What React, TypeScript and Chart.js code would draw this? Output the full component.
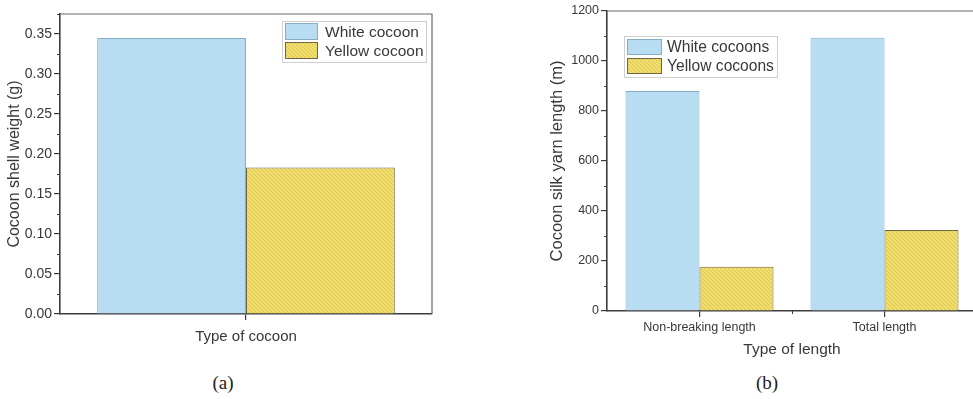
import React, { useEffect, useRef } from 'react';
import { Chart, registerables } from 'chart.js';

Chart.register(...registerables);

// ---------- data ----------
const aCategories = [''];
const aLegendLabels = ['White cocoon', 'Yellow cocoon'];
const aWhite = [0.345];
const aYellow = [0.183];
const aYMin = 0;
const aYMax = 0.375;
const aYStep = 0.05;

const bCategories = ['Non-breaking length', 'Total length'];
const bLegendLabels = ['White cocoons', 'Yellow cocoons'];
const bWhite = [880, 1093];
const bYellow = [177, 324];
const bYMin = 0;
const bYMax = 1200;
const bYStep = 200;

const AXIS = '#3c3c3c';
const TEXT = '#383838';
const FRAME = '#6a6a6a';
const BLUE = '#b8dcf1';
const BLUE_BORDER = '#86adc6';
const YELLOW_BORDER = '#6e6640';

function makeHatch(): CanvasPattern | string {
  const c = document.createElement('canvas');
  c.width = 4;
  c.height = 4;
  const g = c.getContext('2d');
  if (!g) return '#e8d55e';
  g.fillStyle = '#efdd6e';
  g.fillRect(0, 0, 4, 4);
  g.strokeStyle = '#dec64f';
  g.lineWidth = 1;
  for (const off of [-4, 0, 4]) {
    g.beginPath();
    g.moveTo(off, 0);
    g.lineTo(off + 4, 4);
    g.stroke();
  }
  const p = g.createPattern(c, 'repeat');
  return p || '#e8d55e';
}

const framePlugin = {
  id: 'frame',
  afterDraw(chart: any, _args: any, opts: any) {
    const { ctx } = chart;
    const { left, right, top, bottom } = chart.chartArea;
    ctx.save();
    ctx.strokeStyle = FRAME;
    ctx.lineWidth = 1.2;
    ctx.beginPath();
    ctx.moveTo(left, top);
    ctx.lineTo(right, top);
    ctx.lineTo(right, bottom);
    ctx.stroke();
    // minor y ticks
    const y = chart.scales.y;
    ctx.strokeStyle = AXIS;
    ctx.lineWidth = 1;
    const step = opts.yStep;
    for (let v = y.min + step / 2; v < y.max; v += step) {
      const py = Math.round(y.getPixelForValue(v)) + 0.5;
      ctx.beginPath();
      ctx.moveTo(left, py);
      ctx.lineTo(left - 3, py);
      ctx.stroke();
    }
    // minor x ticks between categories
    const x = chart.scales.x;
    const n = chart.data.labels.length;
    for (let i = 0; i < n - 1; i++) {
      const px = Math.round((x.getPixelForValue(i) + x.getPixelForValue(i + 1)) / 2) + 0.5;
      ctx.beginPath();
      ctx.moveTo(px, bottom);
      ctx.lineTo(px, bottom + 3);
      ctx.stroke();
    }
    // legend
    const L = opts.legend;
    const bx = L.anchor === 'right' ? right - L.dx - L.w : left + L.dx;
    const by = top + L.dy;
    ctx.fillStyle = '#ffffff';
    ctx.fillRect(bx, by, L.w, L.h);
    ctx.strokeStyle = '#cfcfcf';
    ctx.lineWidth = 1;
    ctx.strokeRect(bx + 0.5, by + 0.5, L.w, L.h);
    ctx.font = `${L.fontSize}px "Liberation Sans", Arial, sans-serif`;
    ctx.textBaseline = 'middle';
    ctx.textAlign = 'left';
    chart.data.datasets.forEach((ds: any, i: number) => {
      const sx = bx + L.pad;
      const sy = by + L.padTop + i * L.rowH;
      ctx.fillStyle = ds.backgroundColor;
      ctx.fillRect(sx, sy, L.swW, L.swH);
      ctx.strokeStyle = ds.borderColor;
      ctx.strokeRect(sx + 0.5, sy + 0.5, L.swW - 1, L.swH - 1);
      ctx.fillStyle = TEXT;
      ctx.fillText(ds.label, sx + L.swW + L.textGap, sy + L.swH / 2 + 1);
    });
    ctx.restore();
  },
};

type Cfg = {
  labels: string[];
  legend: string[];
  white: number[];
  yellow: number[];
  yMin: number;
  yMax: number;
  yStep: number;
  decimals: number;
  yTitle: string;
  xTitle: string;
  yWidth: number;
  xHeight: number;
  padding: any;
  yTickFont: number;
  xTickFont: number;
  yTitleFont: number;
  xTitleFont: number;
  yTitlePad: number;
  xTitlePad: number;
  xTickPad: number;
  legendOpts: any;
};

function BarPanel({ cfg, width, height }: { cfg: Cfg; width: number; height: number }) {
  const ref = useRef<HTMLCanvasElement | null>(null);
  useEffect(() => {
    if (!ref.current) return;
    const hatch = makeHatch();
    const fam = '"Liberation Sans", Arial, sans-serif';
    const chart = new Chart(ref.current, {
      type: 'bar',
      data: {
        labels: cfg.labels,
        datasets: [
          {
            label: cfg.legend[0],
            data: cfg.white,
            backgroundColor: BLUE,
            borderColor: BLUE_BORDER,
            borderWidth: 1,
            categoryPercentage: 0.8,
            barPercentage: 1.0,
          },
          {
            label: cfg.legend[1],
            data: cfg.yellow,
            backgroundColor: hatch as any,
            borderColor: YELLOW_BORDER,
            borderWidth: 1,
            categoryPercentage: 0.8,
            barPercentage: 1.0,
          },
        ],
      },
      options: {
        responsive: false,
        animation: false,
        devicePixelRatio: 1,
        layout: { padding: cfg.padding },
        plugins: {
          legend: { display: false },
          tooltip: { enabled: false },
          frame: { yStep: cfg.yStep, legend: cfg.legendOpts },
        } as any,
        scales: {
          x: {
            type: 'category',
            offset: true,
            grid: {
              display: true,
              drawOnChartArea: false,
              drawTicks: true,
              tickLength: 6,
              offset: false,
              color: AXIS,
              lineWidth: 1.2,
            },
            border: { display: true, color: AXIS, width: 1.6 },
            ticks: {
              color: TEXT,
              font: { family: fam, size: cfg.xTickFont },
              padding: cfg.xTickPad,
              maxRotation: 0,
            },
            title: {
              display: true,
              text: cfg.xTitle,
              color: TEXT,
              font: { family: fam, size: cfg.xTitleFont },
              padding: { top: 0, bottom: cfg.xTitlePad },
            },
            afterFit: (s: any) => {
              s.height = cfg.xHeight;
            },
          },
          y: {
            type: 'linear',
            min: cfg.yMin,
            max: cfg.yMax,
            grid: {
              display: true,
              drawOnChartArea: false,
              drawTicks: true,
              tickLength: 6,
              color: AXIS,
              lineWidth: 1.2,
            },
            border: { display: true, color: AXIS, width: 1.6 },
            ticks: {
              stepSize: cfg.yStep,
              includeBounds: false,
              color: TEXT,
              padding: 2,
              font: { family: fam, size: cfg.yTickFont },
              callback: (v: any) => Number(v).toFixed(cfg.decimals),
            },
            title: {
              display: true,
              text: cfg.yTitle,
              color: TEXT,
              font: { family: fam, size: cfg.yTitleFont },
              padding: { top: cfg.yTitlePad, bottom: 0 },
            },
            afterFit: (s: any) => {
              s.width = cfg.yWidth;
            },
          },
        },
      },
      plugins: [framePlugin as any],
    });
    return () => chart.destroy();
  }, [cfg]);
  return <canvas ref={ref} width={width} height={height} style={{ width, height, display: 'block' }} />;
}

const cfgA: Cfg = {
  labels: aCategories,
  legend: aLegendLabels,
  white: aWhite,
  yellow: aYellow,
  yMin: aYMin,
  yMax: aYMax,
  yStep: aYStep,
  decimals: 2,
  yTitle: 'Cocoon shell weight (g)',
  xTitle: 'Type of cocoon',
  yWidth: 60,
  xHeight: 46,
  padding: { top: 14, right: 13, left: 0, bottom: 0 },
  yTickFont: 14,
  xTickFont: 12,
  yTitleFont: 16,
  xTitleFont: 15,
  yTitlePad: 5,
  xTitlePad: 14,
  xTickPad: 2,
  legendOpts: { anchor: 'right', dx: 6, dy: 7, w: 144, h: 41, pad: 3, padTop: 2, swW: 33, swH: 17, rowH: 19, textGap: 7, fontSize: 15.5 },
};

const cfgB: Cfg = {
  labels: bCategories,
  legend: bLegendLabels,
  white: bWhite,
  yellow: bYellow,
  yMin: bYMin,
  yMax: bYMax,
  yStep: bYStep,
  decimals: 0,
  yTitle: 'Cocoon silk yarn length (m)',
  xTitle: 'Type of length',
  yWidth: 67,
  xHeight: 49,
  padding: { top: 11, right: 8, left: 0, bottom: 0 },
  yTickFont: 12.5,
  xTickFont: 12.5,
  yTitleFont: 16.5,
  xTitleFont: 15.5,
  yTitlePad: 8,
  xTitlePad: 1,
  xTickPad: 3,
  legendOpts: { anchor: 'left', dx: 17, dy: 25, w: 153, h: 41, pad: 3, padTop: 3, swW: 35, swH: 16, rowH: 19, textGap: 5, fontSize: 15.6 },
};

export default function App() {
  return (
    <div
      style={{
        position: 'fixed',
        left: 0,
        top: 0,
        width: 973,
        height: 399,
        overflow: 'hidden',
        background: '#ffffff',
      }}
    >
      <div style={{ position: 'absolute', left: 0, top: 0 }}>
        <BarPanel cfg={cfgA} width={445} height={360} />
      </div>
      <div style={{ position: 'absolute', left: 540, top: 0 }}>
        <BarPanel cfg={cfgB} width={445} height={360} />
      </div>
      <div
        style={{
          position: 'absolute',
          left: 173,
          width: 100,
          top: 372,
          textAlign: 'center',
          fontFamily: '"Liberation Serif", "Times New Roman", serif',
          fontSize: 19,
          color: '#222',
        }}
      >
        (a)
      </div>
      <div
        style={{
          position: 'absolute',
          left: 717,
          width: 100,
          top: 372,
          textAlign: 'center',
          fontFamily: '"Liberation Serif", "Times New Roman", serif',
          fontSize: 19,
          color: '#222',
        }}
      >
        (b)
      </div>
    </div>
  );
}
